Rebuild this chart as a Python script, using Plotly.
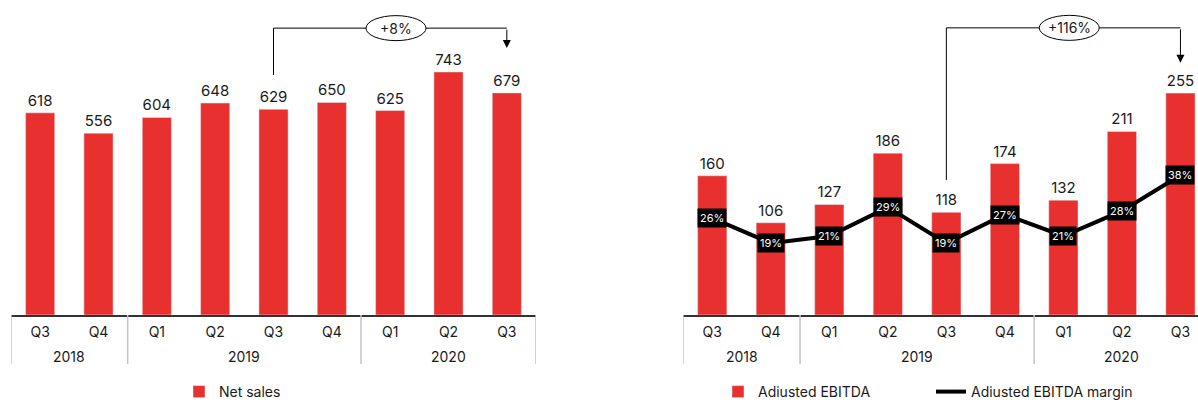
import plotly.graph_objects as go

# ---------------- data ----------------
years = ["2018", "2018", "2019", "2019", "2019", "2019", "2020", "2020", "2020"]
quarters = ["Q3", "Q4", "Q1", "Q2", "Q3", "Q4", "Q1", "Q2", "Q3"]
net_sales = [618, 556, 604, 648, 629, 650, 625, 743, 679]
ebitda = [160, 106, 127, 186, 118, 174, 132, 211, 255]
ebitda_margin = [26, 19, 21, 29, 19, 27, 21, 28, 38]
sales_growth = "+8%"
ebitda_growth = "+116%"

RED = "#e8302f"
FONT = "Inter"
TXT = "#1a1a1a"
H = 403.0
BASE_PX = 315  # pixel row of the x axis

periods = [f"{q} {y}" for q, y in zip(quarters, years)]

fig = go.Figure()

fig.add_trace(go.Bar(
    x=periods, y=net_sales, text=net_sales, textposition="outside",
    marker_color=RED, name="Net sales", xaxis="x", yaxis="y", legend="legend",
    cliponaxis=False, textfont=dict(size=15, color=TXT)))

fig.add_trace(go.Bar(
    x=periods, y=ebitda, text=ebitda, textposition="outside",
    marker_color=RED, name="Adiusted EBITDA", xaxis="x2", yaxis="y2", legend="legend2",
    cliponaxis=False, textfont=dict(size=15, color=TXT)))

fig.add_trace(go.Scatter(
    x=periods, y=ebitda_margin, mode="lines",
    line=dict(color="black", width=4), name="Adiusted EBITDA margin",
    xaxis="x2", yaxis="y3", legend="legend2", cliponaxis=False))

xcommon = dict(type="category", showline=True, linecolor="#333", linewidth=1.5,
               ticks="", showgrid=False, zeroline=False, automargin=False,
               tickmode="array", tickvals=periods, ticktext=quarters,
               ticklabelstandoff=3, tickfont=dict(size=14, color=TXT))
ydomain = [(H - BASE_PX) / H, 1]

fig.update_layout(
    width=1198, height=403,
    margin=dict(l=0, r=0, t=0, b=0, autoexpand=False),
    paper_bgcolor="white", plot_bgcolor="white",
    font=dict(family=FONT, color=TXT),
    bargap=0.5,
    xaxis=dict(domain=[11 / 1198, 536 / 1198], range=[-0.5, 8.5], anchor="y", **xcommon),
    xaxis2=dict(domain=[683 / 1198, 1], range=[-0.5, 8.30], anchor="y2", **xcommon),
    yaxis=dict(domain=ydomain, range=[0, 963], visible=False, anchor="x", automargin=False),
    yaxis2=dict(domain=ydomain, range=[0, 362], visible=False, anchor="x2", automargin=False),
    yaxis3=dict(domain=ydomain, range=[-1.1, 87], visible=False, overlaying="y2", anchor="x2",
                automargin=False),
    legend=dict(orientation="h", x=179 / 1198, y=(H - 376) / H, yanchor="top",
                xanchor="left", font=dict(size=14, color=TXT), bgcolor="rgba(0,0,0,0)"),
    legend2=dict(orientation="h", x=718 / 1198, y=(H - 376) / H, yanchor="top",
                 xanchor="left", font=dict(size=14, color=TXT), bgcolor="rgba(0,0,0,0)",
                 entrywidth=168),
    showlegend=True,
)

# year row and group dividers
for xref in ("x", "x2"):
    groups = []
    for i, y in enumerate(years):
        if not groups or groups[-1][0] != y:
            groups.append([y, i, i])
        else:
            groups[-1][2] = i
    for y, i0, i1 in groups:
        fig.add_annotation(x=(i0 + i1) / 2, y=(H - 356) / H, xref=xref, yref="paper",
                           text=y, showarrow=False, font=dict(size=14, color=TXT),
                           yanchor="middle")
        fig.add_shape(type="line", xref=xref, yref="paper", x0=i0 - 0.5, x1=i0 - 0.5,
                      y0=(H - BASE_PX) / H, y1=(H - 364) / H,
                      line=dict(color="#c4c4c4", width=1.5))
    last = groups[-1][2] + 0.5
    fig.add_shape(type="line", xref=xref, yref="paper", x0=last, x1=last,
                  y0=(H - BASE_PX) / H, y1=(H - 364) / H,
                  line=dict(color="#c4c4c4", width=1.5))

# margin labels
for i, m in enumerate(ebitda_margin):
    fig.add_annotation(x=i, y=m, xref="x2", yref="y3", text=f"{m}%", showarrow=False,
                       bgcolor="black", font=dict(size=11, color="white"), borderpad=2)


def growth_arrow(xref, yref, x_start, x_end, y_low, y_top, y_tip, label, ell_x, ell_w):
    fig.add_shape(type="line", xref=xref, yref=yref, x0=x_start, x1=x_start, y0=y_low, y1=y_top,
                  line=dict(color="black", width=1))
    fig.add_shape(type="line", xref=xref, yref=yref, x0=x_start, x1=x_end, y0=y_top, y1=y_top,
                  line=dict(color="black", width=1))
    fig.add_annotation(x=x_end, y=y_tip, ax=x_end, ay=y_top, xref=xref, yref=yref,
                       axref=xref, ayref=yref, showarrow=True, arrowhead=2, arrowsize=1.6,
                       arrowwidth=1, arrowcolor="black", text="", standoff=0)
    fig.add_shape(type="circle", xref=xref, yref=yref, xsizemode="pixel", ysizemode="pixel",
                  xanchor=ell_x, yanchor=y_top, x0=-ell_w / 2, x1=ell_w / 2, y0=-12.5, y1=12.5,
                  fillcolor="white", line=dict(color="black", width=1))
    fig.add_annotation(x=ell_x, y=y_top, xref=xref, yref=yref, text=label, showarrow=False,
                       font=dict(size=14, color=TXT))


growth_arrow("x", "y", 4, 8, 734, 877, 816, sales_growth, 6.1, 60)
growth_arrow("x2", "y2", 4, 8, 155, 330, 290, ebitda_growth, 6.1, 60)

fig.write_html("out.html")
